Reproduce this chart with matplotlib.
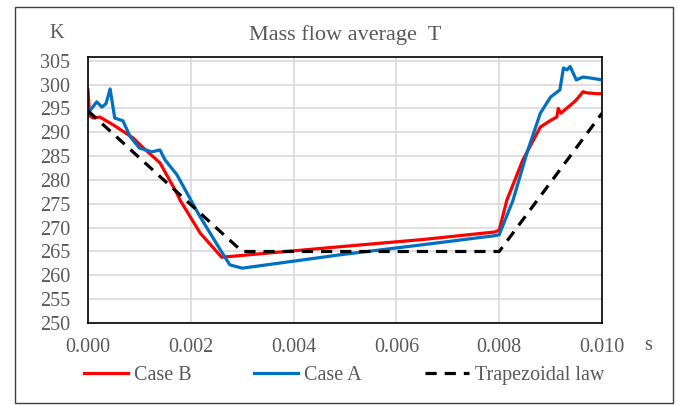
import matplotlib.pyplot as plt
from matplotlib.patches import Rectangle

plt.rcParams['font.family'] = ['Liberation Serif', 'DejaVu Serif']

# time (s) and temperature (K)
t_b = [0.0, 0.00003, 0.0001, 0.00023, 0.0005, 0.00088, 0.0011, 0.0014, 0.00173, 0.00179,
       0.00218, 0.0026, 0.0049, 0.0065, 0.00792, 0.008, 0.00815, 0.00846, 0.0088, 0.009,
       0.00912, 0.00915, 0.0092, 0.00944, 0.0095, 0.00963, 0.0097, 0.0099, 0.01]
T_b = [298.9, 293.5, 293.0, 293.2, 291.5, 288.8, 286.5, 283.6, 277.2, 275.8,
       268.9, 263.8, 266.0, 267.5, 269.1, 269.5, 275.8, 284.2, 291.1, 292.5,
       293.2, 295.0, 294.0, 296.2, 296.8, 298.5, 298.3, 298.1, 298.1]

t_a = [0.0, 0.00017, 0.00027, 0.00035, 0.00043, 0.00052, 0.00068, 0.00082, 0.001, 0.00124,
       0.0014, 0.0015, 0.00173, 0.002, 0.00218, 0.0026, 0.00276, 0.003, 0.0049, 0.0065,
       0.0079, 0.008, 0.00827, 0.00854, 0.0088, 0.009, 0.00918, 0.00925, 0.00932, 0.00938,
       0.0095, 0.00963, 0.00977, 0.01]
T_a = [294.0, 296.4, 295.3, 296.0, 299.1, 293.0, 292.4, 289.1, 286.7, 285.9,
       286.3, 284.2, 281.1, 275.8, 272.3, 264.9, 262.2, 261.5, 264.3, 266.4,
       268.3, 268.5, 275.8, 285.7, 294.0, 297.4, 298.9, 303.5, 303.1, 303.8,
       301.0, 301.6, 301.4, 301.0]

t_trap = [0.0, 0.003, 0.008, 0.01]
T_trap = [294.5, 265.0, 265.0, 294.0]

GRAY = '#595959'
FS = 14.5

fig = plt.figure(figsize=(6.78, 4.05), dpi=100)
fig.patches.append(Rectangle((15 / 678, 2 / 405), 658 / 678, 396 / 405, transform=fig.transFigure,
                             fill=False, edgecolor='#404040', linewidth=1.0))

ax = fig.add_axes([88 / 678, (405 - 323) / 405, 514 / 678, 266 / 405])
ax.plot(t_b, T_b, color='#FF0000', lw=2.3, label='Case B')
ax.plot(t_a, T_a, color='#0070C0', lw=2.3, label='Case A')
ax.plot(t_trap, T_trap, color='black', lw=2.3, dashes=(3.5, 2.5), label='Trapezoidal law')

ax.set_xlim(0, 0.010)
ax.set_ylim(250, 305.8)
ax.set_xticks([0.000, 0.002, 0.004, 0.006, 0.008, 0.010])
ax.set_xticklabels(['0.000', '0.002', '0.004', '0.006', '0.008', '0.010'])
ax.set_yticks(range(250, 306, 5))
ax.grid(True, color='#D9D9D9', lw=1.2)
ax.set_axisbelow(True)
ax.tick_params(length=0, labelsize=FS, labelcolor=GRAY)
ax.tick_params(axis='y', pad=13)
ax.tick_params(axis='x', pad=11)
for sp in ax.spines.values():
    sp.set_color('black')
    sp.set_linewidth(1.2)

fig.text(345 / 678, 1 - 35 / 405, 'Mass flow average  T', ha='center', va='center',
         fontsize=16, color=GRAY)
fig.text(57 / 678, 1 - 33 / 405, 'K', ha='center', va='center', fontsize=FS, color=GRAY)
fig.text(648 / 678, 1 - 345 / 405, 's', ha='center', va='center', fontsize=FS, color=GRAY)

fig.legend(loc='center', bbox_to_anchor=(344 / 678, 1 - 375 / 405), ncol=3, frameon=False,
           fontsize=FS, labelcolor=GRAY, handlelength=2.2, handletextpad=0.3,
           columnspacing=3.1)

fig.savefig('out.png', dpi=100)
